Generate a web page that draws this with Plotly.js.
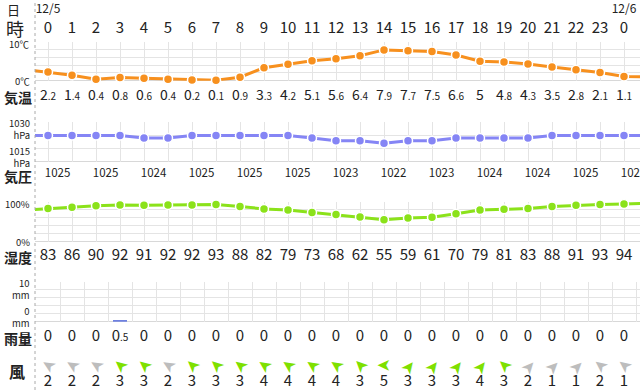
<!DOCTYPE html>
<html>
<head>
<meta charset="utf-8">
<script src="https://cdn.plot.ly/plotly-3.0.1.min.js"></script>
<style>html,body{margin:0;padding:0;background:#fff;}#chart{width:640px;height:390px;}</style>
</head>
<body>
<div id="chart"></div>
<script>
// ---- data ----
const hours = [-1,0,1,2,3,4,5,6,7,8,9,10,11,12,13,14,15,16,17,18,19,20,21,22,23,24,25];
const hourLabels = ['0','1','2','3','4','5','6','7','8','9','10','11','12','13','14','15','16','17','18','19','20','21','22','23','0'];
const dateHours = [0, 24];
const dateLabels = ['12/5', '12/6'];
const temperature = [2.9,2.2,1.4,0.4,0.8,0.6,0.4,0.2,0.1,0.9,3.3,4.2,5.1,5.6,6.4,7.9,7.7,7.5,6.6,5,4.8,4.3,3.5,2.8,2.1,1.1,1.0];
const pressure = [1025,1025,1025,1025,1025,1024,1024,1025,1025,1025,1025,1025,1024,1023,1023,1022,1023,1023,1024,1024,1024,1024,1025,1025,1025,1025,1025];
const pressureLabelHours = [0,2,4,6,8,10,12,14,16,18,20,22,24];
const pressureLabels = [1025,1025,1024,1025,1025,1025,1023,1022,1023,1024,1024,1025,1025];
const humidity = [79,83,86,90,92,91,92,92,93,88,82,79,73,68,62,55,59,61,70,79,81,83,88,91,93,94,96];
const rainHours = [0,1,2,3,4,5,6,7,8,9,10,11,12,13,14,15,16,17,18,19,20,21,22,23,24];
const rain = [0,0,0,0.5,0,0,0,0,0,0,0,0,0,0,0,0,0,0,0,0,0,0,0,0,0];
const windSpeed = [2,2,2,3,3,2,3,3,3,4,4,4,4,3,5,3,3,3,4,3,2,1,1,2,1];
const windAngle = [-58,-58,-58,-50,-50,-58,-48,-48,-52,-55,-55,-55,-55,-45,-90,38,38,38,38,-48,42,45,45,-52,-52];
const rowNames = ['日','時','気温','気圧','湿度','雨量','風'];
const axisLabels = [['10℃', 43.5], ['0℃', 81], ['1030<br>hPa', 129.2], ['1015<br>hPa', 157], ['100%', 204.3], ['0%', 242.3], ['10<br>mm', 289.2], ['0<br>mm', 317]];

// ---- helpers ----
const W = 640, H = 390, L = 35;
const px = v => (v - L) / (W - L);
const py = v => 1 - v / H;
const FONT = '"Noto Sans CJK JP", "Noto Sans", sans-serif';
const TXT = '#222';
const labelHours = hours.slice(1, 26);
function fmtDec(v, small) {
  const s = String(v);
  const i = s.indexOf('.');
  if (i < 0) return s;
  return s.slice(0, i) + '<span style="font-size:' + small + 'px">' + s.slice(i) + '</span>';
}

const cOrange = '#f7901e', cBlue = '#8585f5', cGreen = '#8be21a', cGray = '#bdbdbd', cWindGreen = '#7ee000';
const grid = '#e4e4e4';
const xRange = [(L - 48) / 24, (W - 48) / 24];

const traces = [];
traces.push({x: hours, y: temperature, xaxis: 'x', yaxis: 'y', type: 'scatter', mode: 'lines+markers',
  line: {color: cOrange, width: 3}, marker: {color: cOrange, size: 9, line: {color: '#fff', width: 1.5}},
  hoverinfo: 'skip', cliponaxis: false});
traces.push({x: hours, y: pressure, xaxis: 'x', yaxis: 'y2', type: 'scatter', mode: 'lines+markers',
  line: {color: cBlue, width: 3}, marker: {color: cBlue, size: 9, line: {color: '#fff', width: 1.5}},
  hoverinfo: 'skip'});
traces.push({x: hours, y: humidity, xaxis: 'x', yaxis: 'y3', type: 'scatter', mode: 'lines+markers',
  line: {color: cGreen, width: 3}, marker: {color: cGreen, size: 9, line: {color: '#fff', width: 1.5}},
  hoverinfo: 'skip', cliponaxis: false});
traces.push({x: rainHours, y: rain, xaxis: 'x2', yaxis: 'y4', type: 'bar', width: 0.55,
  marker: {color: '#6e80e0', line: {width: 0}}, hoverinfo: 'skip'});

function textRow(xs, texts, yPix, size) {
  return {x: xs, y: xs.map(() => yPix), text: texts, xaxis: 'x3', yaxis: 'y5', type: 'scatter', mode: 'text',
    textposition: 'middle center', textfont: {family: FONT, size: size, color: TXT}, hoverinfo: 'skip', cliponaxis: false};
}
traces.push(textRow(dateHours, dateLabels, 9.5, 12));
traces.push(textRow(labelHours, hourLabels, 29, 15));
traces.push(textRow(labelHours, temperature.slice(1, 26).map(v => fmtDec(v, 10)), 96, 14));
traces.push(textRow(pressureLabelHours.map(h => h + 0.4), pressureLabels.map(String), 174.5, 11.5));
traces.push(textRow(labelHours, humidity.slice(1, 26).map(String), 256, 15));
traces.push(textRow(rainHours, rain.map(v => fmtDec(v, 10)), 337, 15));
traces.push(textRow(rainHours, windSpeed.map(String), 382.5, 15));

const ann = [];
rainHours.forEach((h, i) => {
  ann.push({xref: 'x3', yref: 'y5', x: h, y: 366.5, text: '➤', showarrow: false,
    textangle: windAngle[i] - 90, xanchor: 'center', yanchor: 'middle',
    font: {family: '"DejaVu Sans", sans-serif', size: 17, color: windSpeed[i] <= 2 ? cGray : cWindGreen}});
});
function addAnn(text, xPix, yPix, size, anchor, bold) {
  ann.push({xref: 'paper', yref: 'paper', x: px(xPix), y: py(yPix), text: bold ? '<b>' + text + '</b>' : text,
    showarrow: false, xanchor: anchor, yanchor: 'middle', align: 'right', font: {family: FONT, size: size, color: TXT}});
}
addAnn(rowNames[0], 13, 9, 13, 'center', false);
addAnn(rowNames[1], 15, 28.5, 18, 'center', false);
addAnn(rowNames[2], 18, 96.5, 14, 'center', true);
addAnn(rowNames[3], 18, 176, 14, 'center', true);
addAnn(rowNames[4], 18, 256.5, 14, 'center', true);
addAnn(rowNames[5], 18, 338, 14, 'center', true);
addAnn(rowNames[6], 17, 371, 16, 'center', true);
axisLabels.forEach(a => addAnn(a[0], 32, a[1], 9.5, 'right'));

const baseLine = '#bfbfbf';
const shapes = [
  {type: 'line', xref: 'paper', yref: 'paper', x0: 0, x1: 0, y0: 0, y1: 1, line: {color: '#aaaaaa', width: 1, dash: 'dot'}},
  {type: 'line', xref: 'paper', yref: 'y', x0: 0, x1: 1, y0: 0, y1: 0, line: {color: baseLine, width: 1}, layer: 'below'},
  {type: 'line', xref: 'paper', yref: 'y2', x0: 0, x1: 1, y0: 1015, y1: 1015, line: {color: baseLine, width: 1}, layer: 'below'},
  {type: 'line', xref: 'paper', yref: 'y3', x0: 0, x1: 1, y0: 0, y1: 0, line: {color: baseLine, width: 1}, layer: 'below'},
  {type: 'line', xref: 'paper', yref: 'y4', x0: 0, x1: 1, y0: 0, y1: 0, line: {color: baseLine, width: 1}, layer: 'below'}
];

const yBase = {showticklabels: false, ticks: '', zeroline: false, showline: false, gridcolor: grid, gridwidth: 1, fixedrange: true};
const xBase = {range: xRange, showticklabels: false, ticks: '', zeroline: false, showline: false, gridcolor: grid, fixedrange: true};

const layout = {
  width: W, height: H,
  margin: {l: L, r: 0, t: 0, b: 0, pad: 0},
  paper_bgcolor: '#ffffff', plot_bgcolor: 'rgba(0,0,0,0)',
  showlegend: false,
  font: {family: FONT, color: TXT},
  xaxis: Object.assign({}, xBase, {anchor: 'y', tick0: 0, dtick: 1, showgrid: true}),
  xaxis2: Object.assign({}, xBase, {anchor: 'y4', tick0: 0.5, dtick: 1, showgrid: true}),
  xaxis3: Object.assign({}, xBase, {anchor: 'y5', showgrid: false, visible: false}),
  yaxis: Object.assign({}, yBase, {domain: [py(80.7), py(41.7)], range: [0, 10], dtick: 2, tick0: 0, anchor: 'x'}),
  yaxis2: Object.assign({}, yBase, {domain: [py(161.7), py(122.3)], range: [1015, 1030], dtick: 5, tick0: 1015, anchor: 'x'}),
  yaxis3: Object.assign({}, yBase, {domain: [py(241.7), py(201.7)], range: [0, 100], dtick: 20, tick0: 0, anchor: 'x'}),
  yaxis4: Object.assign({}, yBase, {domain: [py(321.7), py(281.7)], range: [0, 10], dtick: 2, tick0: 0, anchor: 'x2'}),
  yaxis5: {domain: [0, 1], range: [H, 0], visible: false, showgrid: false, zeroline: false, anchor: 'x3', fixedrange: true},
  annotations: ann,
  shapes: shapes,
  bargap: 0
};

Plotly.newPlot('chart', traces, layout, {staticPlot: true, displayModeBar: false});
</script>
</body>
</html>
